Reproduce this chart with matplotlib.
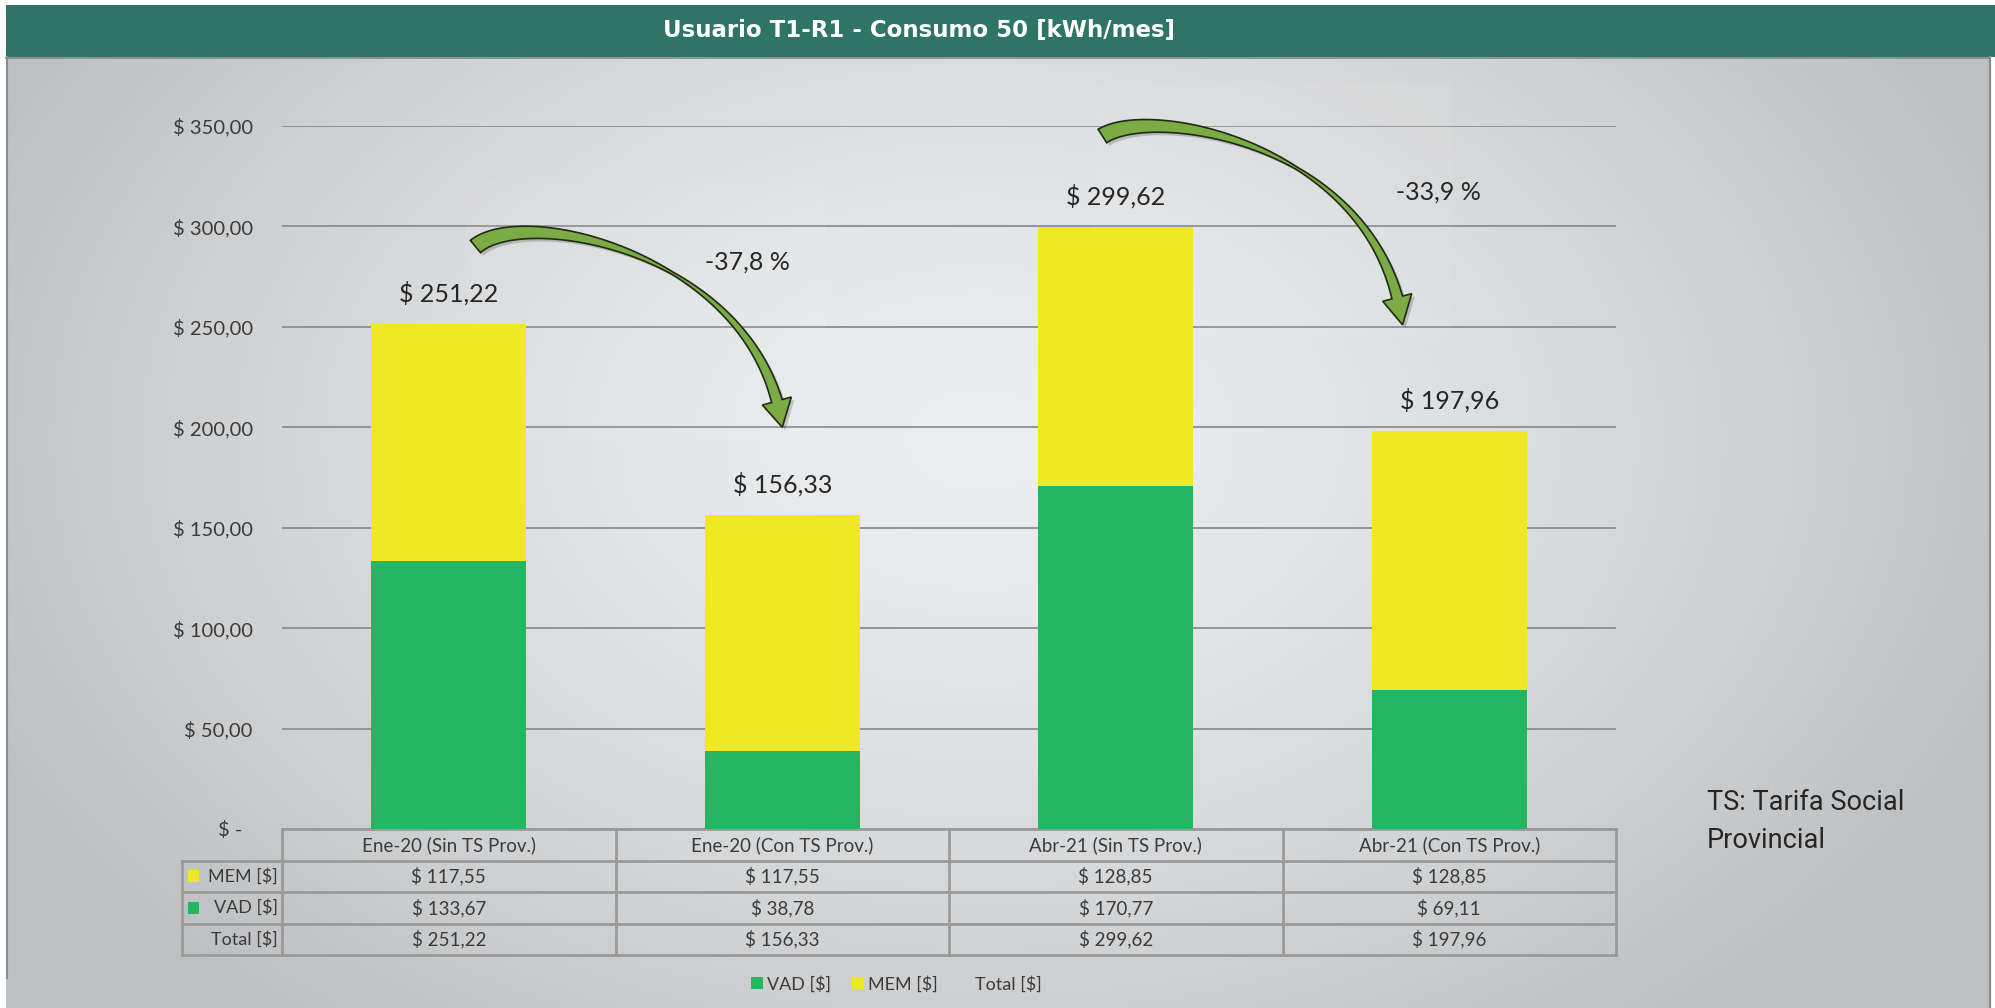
import numpy as np
import matplotlib.pyplot as plt
from matplotlib.patches import Rectangle, Polygon, Patch
from matplotlib.lines import Line2D
from matplotlib.transforms import IdentityTransform, blended_transform_factory

categorias = ['Ene-20 (Sin TS Prov.)', 'Ene-20 (Con TS Prov.)',
              'Abr-21 (Sin TS Prov.)', 'Abr-21 (Con TS Prov.)']
vad = [133.67, 38.78, 170.77, 69.11]
mem = [117.55, 117.55, 128.85, 128.85]
total = [251.22, 156.33, 299.62, 197.96]
variaciones = ['-37,8 %', '-33,9 %']
yticks = [0, 50, 100, 150, 200, 250, 300, 350]

VERDE = '#27b561'
AMARILLO = '#f0e824'
TEXTO = '#3b3b3b'
FUENTE = ['Lato', 'DejaVu Sans']

plt.rcParams['font.family'] = FUENTE


def pesos(v):
    if v == 0:
        return '$ -  '
    return '$ ' + f'{v:.2f}'.replace('.', ',')


def flecha_curva(ax, ctrl, anchos=(16, 10, 2.5, 7, 11), w_punta=30, l_punta=28):
    pts = ax.transData.transform(ctrl)
    p0, p1, p2, p3 = pts
    t = np.linspace(0, 1, 400)[:, None]
    curva = (1 - t) ** 3 * p0 + 3 * (1 - t) ** 2 * t * p1 + 3 * (1 - t) * t ** 2 * p2 + t ** 3 * p3
    d = np.gradient(curva, axis=0)
    tang = d / np.hypot(d[:, 0], d[:, 1])[:, None]
    normal = np.column_stack([-tang[:, 1], tang[:, 0]])
    s = np.concatenate([[0], np.cumsum(np.hypot(*np.diff(curva, axis=0).T))])
    base = s[-1] - l_punta
    k = np.searchsorted(s, base)
    u = s[:k + 1] / base
    w = np.interp(u, [0, 0.25, 0.55, 0.8, 1], anchos)
    izq = curva[:k + 1] + normal[:k + 1] * w[:, None] / 2
    der = curva[:k + 1] - normal[:k + 1] * w[:, None] / 2
    c, n = curva[k], normal[k]
    punta = [c + n * w_punta / 2, curva[-1], c - n * w_punta / 2]
    verts = np.vstack([izq, punta, der[::-1]])
    sombra = Polygon(verts + np.array([3, -3]), closed=True, facecolor='black',
                     alpha=0.18, edgecolor='none', transform=IdentityTransform(), zorder=5)
    forma = Polygon(verts, closed=True, facecolor='#7aab45', edgecolor='#1f2b14',
                    linewidth=1.2, transform=IdentityTransform(), zorder=6)
    for p in (sombra, forma):
        ax.add_artist(p)
        p.set_clip_on(False)


fig = plt.figure(figsize=(19.95, 10.08), dpi=100)

# fondo con degradado radial, en coordenadas de pixel
bg = fig.add_axes([0, 0, 1, 1])
bg.set_zorder(0)
yy, xx = np.mgrid[0:1008, 0:1995]
dist = np.sqrt(((xx - 980) / 1100.0) ** 2 + ((yy - 440) / 750.0) ** 2)
f = np.clip(dist, 0, 1) ** 1.4
claro = np.array([237, 238, 239]) / 255.0
oscuro = np.array([190, 191, 193]) / 255.0
img = claro + (oscuro - claro) * f[..., None]
bg.imshow(img, extent=[0, 1995, 1008, 0], aspect='auto', interpolation='bilinear')
bg.set_xlim(0, 1995)
bg.set_ylim(1008, 0)
bg.axis('off')
bg.add_patch(Rectangle((0, 0), 6, 1008, facecolor='white', edgecolor='none'))
bg.add_patch(Rectangle((1990, 57), 5, 951, facecolor='white', edgecolor='none'))
bg.add_patch(Rectangle((0, 0), 1995, 5, facecolor='white', edgecolor='none'))
bg.plot([6.5, 6.5], [57, 978], color='#8a8a8a', lw=1.5)
bg.plot([1989.5, 1989.5], [57, 1008], color='#8a8a8a', lw=1.5)
bg.add_patch(Rectangle((6, 5), 1989, 52, facecolor='#2e7568', edgecolor='none'))
bg.plot([6, 1990], [57.5, 57.5], color='#7f8a88', lw=1.2)
bg.text(919, 31, 'Usuario T1-R1 - Consumo 50 [kWh/mes]', color='white',
        fontsize=16.5, fontweight='bold', family='DejaVu Sans',
        ha='center', va='center')
bg.text(1707, 802, 'TS: Tarifa Social', family='Roboto', fontsize=19.5,
        color='#262626', ha='left', va='center')
bg.text(1707, 841, 'Provincial', family='Roboto', fontsize=19.5,
        color='#262626', ha='left', va='center')

# area del grafico
ax = fig.add_axes([282 / 1995, 179 / 1008, 1334 / 1995, 703 / 1008])
ax.set_zorder(1)
ax.patch.set_alpha(0)
x = np.arange(len(categorias))
ax.bar(x, vad, width=0.466, color=VERDE, zorder=3)
ax.bar(x, mem, width=0.466, bottom=vad, color=AMARILLO, zorder=3)
ax.set_xlim(-0.5, len(categorias) - 0.5)
ax.set_ylim(0, 350)
ax.set_yticks(yticks)
ax.set_yticklabels([pesos(v) for v in yticks], fontsize=14.5, color=TEXTO)
ax.tick_params(axis='y', length=0, pad=21)
ax.set_xticks([])
ax.yaxis.grid(True, color='#8d8e90', linewidth=1.3)
ax.set_axisbelow(True)
for sp in ax.spines.values():
    sp.set_visible(False)

for xi, tot in zip(x, total):
    ax.annotate(pesos(tot), (xi, tot), xytext=(0, 22), textcoords='offset points',
                ha='center', va='center', fontsize=18, color='#262626', zorder=7)

# recuadros tenues de las flechas (detras de las barras)
for (x0, y0, x1, y1) in [(0.052, 193.6, 1.128, 321.6), (1.935, 245.4, 3.002, 370.8)]:
    r = Rectangle((x0, y0), x1 - x0, y1 - y0, facecolor='white', alpha=0.05,
                  edgecolor='white', linewidth=1.0, zorder=2)
    ax.add_patch(r)
    r.set_clip_on(False)

ax.text(0.897, 282.3, variaciones[0], ha='center', va='center', fontsize=18, color='#262626')
ax.text(2.969, 317.0, variaciones[1], ha='center', va='center', fontsize=18, color='#262626')

flecha_curva(ax, [(0.08, 290), (0.23, 311), (0.93, 286), (1.0, 200)])
flecha_curva(ax, [(1.96, 345), (2.11, 361), (2.79, 341), (2.86, 251)])

# tabla de datos bajo el eje
tr = blended_transform_factory(ax.transData, ax.transAxes)
rh = 31.5 / 703
xl = -0.8
borde = dict(color='#9a9a9a', lw=2, transform=tr, clip_on=False, zorder=2)
ax.plot([-0.5, 3.5], [0, 0], **borde)
for k in range(1, 5):
    ax.plot([xl, 3.5], [-k * rh, -k * rh], **borde)
for xb in np.arange(-0.5, len(categorias), 1.0):
    ax.plot([xb, xb], [0, -4 * rh], **borde)
ax.plot([xl, xl], [-rh, -4 * rh], **borde)

for xi, cat in zip(x, categorias):
    ax.text(xi, -0.5 * rh, cat, transform=tr, ha='center', va='center',
            fontsize=13.5, color=TEXTO)
filas = [('MEM [$]', AMARILLO, mem), ('VAD [$]', VERDE, vad), ('Total [$]', None, total)]
for j, (nombre, col, vals) in enumerate(filas):
    yc = -(j + 1.5) * rh
    ax.text(-0.513, yc, nombre, transform=tr, ha='right', va='center',
            fontsize=13, color=TEXTO)
    if col:
        ax.add_patch(Rectangle((-0.782, yc - 0.0085), 0.034, 0.017, transform=tr,
                               facecolor=col, edgecolor='none', clip_on=False))
    for xi, v in zip(x, vals):
        ax.text(xi, yc, pesos(v), transform=tr, ha='center', va='center',
                fontsize=13.5, color=TEXTO)

handles = [Patch(facecolor=VERDE, edgecolor='none'),
           Patch(facecolor=AMARILLO, edgecolor='none'),
           Line2D([], [], linestyle='none')]
fig.legend(handles, ['VAD [$]', 'MEM [$]', 'Total [$]'], loc='center',
           bbox_to_anchor=(896 / 1995, 24 / 1008), ncol=3, frameon=False,
           fontsize=13, handlelength=0.67, handleheight=0.67, handletextpad=0.22,
           columnspacing=1.17, labelcolor=TEXTO)

fig.savefig('out.png', dpi=100)
